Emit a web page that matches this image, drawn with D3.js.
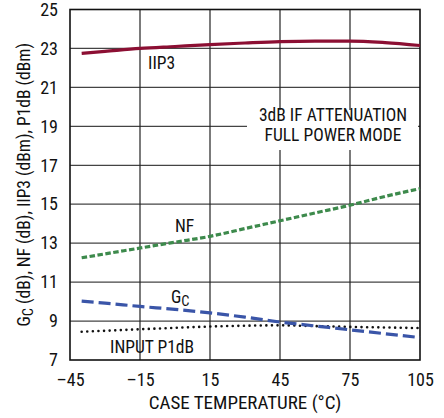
<!DOCTYPE html>
<html>
<head>
<meta charset="utf-8">
<script src="https://cdn.jsdelivr.net/npm/d3@7"></script>
<style>
  body { margin: 0; background: #fff; }
  text { font-family: "Liberation Sans Narrow", "Arial Narrow", "Roboto Condensed", sans-serif; fill: #111; }
</style>
</head>
<body>
<script>
// temperature points (°C)
var temps = [-40, -30, -15, 0, 15, 30, 45, 60, 75, 90, 105];
var iip3  = [22.75, 22.85, 23.0, 23.1, 23.2, 23.28, 23.35, 23.38, 23.38, 23.3, 23.15];
var nf    = [12.25, 12.45, 12.75, 13.05, 13.35, 13.75, 14.15, 14.55, 14.95, 15.4, 15.8];
var gc    = [10.02, 9.92, 9.75, 9.6, 9.42, 9.2, 8.95, 8.75, 8.55, 8.35, 8.15];
var p1db  = [8.45, 8.5, 8.58, 8.65, 8.72, 8.76, 8.78, 8.74, 8.7, 8.67, 8.64];
var xTicks = [-45, -15, 15, 45, 75, 105];
var yTicks = [7, 9, 11, 13, 15, 17, 19, 21, 23, 25];

var W = 444, H = 418;
var margin = {top: 9.5, right: 24, bottom: 58, left: 70};
var width = W - margin.left - margin.right,
    height = H - margin.top - margin.bottom;

var svg = d3.select("body").append("svg")
    .attr("width", W)
    .attr("height", H);
var g = svg.append("g")
    .attr("transform", "translate(" + margin.left + "," + margin.top + ")");

var x = d3.scaleLinear().domain([-45, 105]).range([0, width]);
var y = d3.scaleLinear().domain([7, 25]).range([height, 0]);

// grid
g.selectAll(".hg").data(yTicks.slice(1, -1)).enter().append("line")
    .attr("x1", 0).attr("x2", width)
    .attr("y1", d => y(d)).attr("y2", d => y(d))
    .attr("stroke", "#444").attr("stroke-width", 1.2);
g.selectAll(".vg").data(xTicks.slice(1, -1)).enter().append("line")
    .attr("x1", d => x(d)).attr("x2", d => x(d))
    .attr("y1", 0).attr("y2", height)
    .attr("stroke", "#222").attr("stroke-width", 1.2);

// note box (white background over grid)
g.append("rect")
    .attr("x", 247 - margin.left).attr("y", 110 - margin.top)
    .attr("width", 418 - 247).attr("height", 40)
    .attr("fill", "#fff");

g.append("rect")
    .attr("width", width).attr("height", height)
    .attr("fill", "none").attr("stroke", "#111").attr("stroke-width", 1.6);

// axes
var xAxis = d3.axisBottom(x).tickValues(xTicks).tickSize(0).tickPadding(13)
    .tickFormat(d => d < 0 ? "\u2013" + Math.abs(d) : d);
var yAxis = d3.axisLeft(y).tickValues(yTicks).tickSize(0).tickPadding(12);
var gx = g.append("g").attr("transform", "translate(0," + height + ")").call(xAxis);
var gy = g.append("g").call(yAxis);
[gx, gy].forEach(function (a) {
    a.select(".domain").remove();
    a.selectAll("text").style("font-size", "18px").attr("fill", "#111");
});

var line = d3.line()
    .x((d, i) => x(temps[i]))
    .y(d => y(d))
    .curve(d3.curveMonotoneX);

g.append("path").datum(p1db).attr("d", line)
    .attr("fill", "none").attr("stroke", "#111").attr("stroke-width", 2.6)
    .attr("stroke-linecap", "round").attr("stroke-dasharray", "0,5.6");
g.append("path").datum(gc).attr("d", line)
    .attr("fill", "none").attr("stroke", "#3a55a8").attr("stroke-width", 3.2)
    .attr("stroke-dasharray", "12,5");
g.append("path").datum(nf).attr("d", line)
    .attr("fill", "none").attr("stroke", "#3d8a4c").attr("stroke-width", 3.2)
    .attr("stroke-dasharray", "5.5,2.5");
g.append("path").datum(iip3).attr("d", line)
    .attr("fill", "none").attr("stroke", "#8c0f33").attr("stroke-width", 3.2);

// curve labels
function label(tx, ty, s) {
    return g.append("text").attr("x", tx).attr("y", ty).style("font-size", "17.5px").text(s);
}
label(148 - margin.left, 69 - margin.top, "IIP3");
label(175 - margin.left, 232 - margin.top, "NF");
var gcl = label(171 - margin.left, 303 - margin.top, "G");
gcl.append("tspan").attr("dy", 3).style("font-size", "14.5px").text("C");
label(110 - margin.left, 353 - margin.top, "INPUT P1dB");

g.append("text").attr("x", 333 - margin.left).attr("y", 121 - margin.top)
    .attr("text-anchor", "middle").style("font-size", "17.5px").text("3dB IF ATTENUATION");
g.append("text").attr("x", 333 - margin.left).attr("y", 141 - margin.top)
    .attr("text-anchor", "middle").style("font-size", "17.5px").text("FULL POWER MODE");

// axis titles
svg.append("text")
    .attr("x", 245).attr("y", 409)
    .attr("text-anchor", "middle").style("font-size", "19px")
    .text("CASE TEMPERATURE (\u00B0C)");
var yt = svg.append("text")
    .attr("transform", "translate(30," + (margin.top + height / 2) + ") rotate(-90)")
    .attr("text-anchor", "middle").style("font-size", "17.5px");
yt.append("tspan").text("G");
yt.append("tspan").attr("dy", 3).style("font-size", "14.5px").text("C");
yt.append("tspan").attr("dy", -3).text(" (dB), NF (dB), IIP3 (dBm), P1dB (dBm)");
</script>
</body>
</html>
